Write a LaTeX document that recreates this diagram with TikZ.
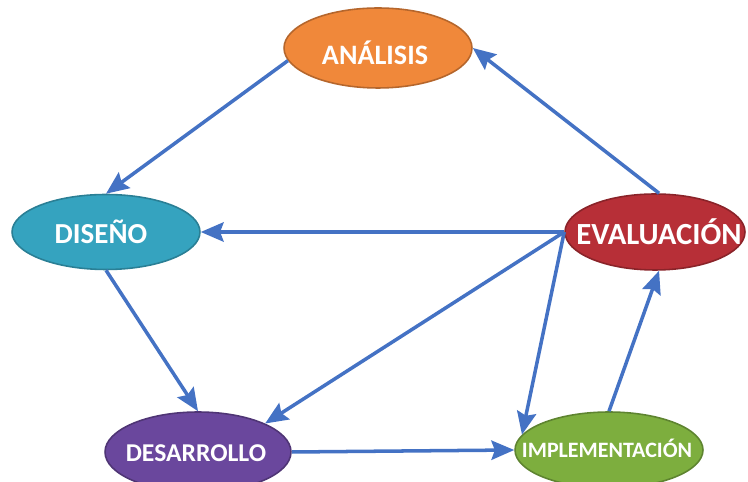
\documentclass[tikz,border=0pt]{standalone}
\usepackage{fontspec}
\setmainfont{Carlito}
\usetikzlibrary{calc,positioning,arrows.meta,shapes.geometric}

\definecolor{flowblue}{HTML}{4472C4}
\definecolor{analisisfill}{HTML}{F0883A}
\definecolor{analisisline}{HTML}{B5662C}
\definecolor{disenofill}{HTML}{35A3BF}
\definecolor{disenoline}{HTML}{2A7F95}
\definecolor{evalfill}{HTML}{B72F37}
\definecolor{evalline}{HTML}{8A2329}
\definecolor{desarrollofill}{HTML}{6A479D}
\definecolor{desarrolloline}{HTML}{4F3575}
\definecolor{implfill}{HTML}{7DAE3E}
\definecolor{implline}{HTML}{5E8430}

\begin{document}
\begin{tikzpicture}[x=0.02cm,y=-0.02cm,
    phase/.style={draw, ellipse, line width=0.9pt, inner sep=0pt,
      minimum width=3.76cm, minimum height=1.56cm},
    phasetext/.style={text=white, inner sep=0pt, font=\bfseries\fontsize{#1}{20}\selectfont},
    flow/.style={draw=flowblue, line width=2pt,
      -{Stealth[length=13pt,width=11pt,inset=2pt]}}]

  \clip (0,0) rectangle (748,482);

  \node [phase, fill=analisisfill, draw=analisisline, minimum height=1.6cm] at (378,48) (analisis) {};
  \node [phase, fill=disenofill, draw=disenoline, minimum height=1.5cm] at (106,232) (diseno) {};
  \node [phase, fill=evalfill, draw=evalline, minimum width=3.6cm, minimum height=1.52cm] at (655,232) (evaluacion) {};
  \node [phase, fill=desarrollofill, draw=desarrolloline, minimum width=3.72cm, minimum height=1.6cm] at (198,452) (desarrollo) {};
  \node [phase, fill=implfill, draw=implline, minimum height=1.52cm] at (609,450) (implementacion) {};

  \node [phasetext=16] at (375,53) (analisis_label) {ANÁLISIS};
  \node [phasetext=16.5] at (101,232) (diseno_label) {DISEÑO};
  \node [phasetext=17.5] at (659,232) (evaluacion_label) {EVALUACIÓN};
  \node [phasetext=14.6] at (196,453) (desarrollo_label) {DESARROLLO};
  \node [phasetext=12.5] at (607,448) (implementacion_label) {IMPLEMENTACIÓN};

  % cycle
  \draw [flow] (analisis.188) -- (diseno.north);
  \draw [flow] (diseno.south) -- (desarrollo.north);
  \draw [flow] (desarrollo.east) -- (implementacion.west);
  \draw [flow] (implementacion.north) -- (evaluacion.276);
  \draw [flow] (evaluacion.84) -- (analisis.east);

  % feedback from evaluation
  \draw [flow] (evaluacion.west) -- (diseno.east);
  \draw [flow] (evaluacion.west) -- (desarrollo.23);
  \draw [flow] (evaluacion.west) -- (implementacion.170);

\end{tikzpicture}
\end{document}
